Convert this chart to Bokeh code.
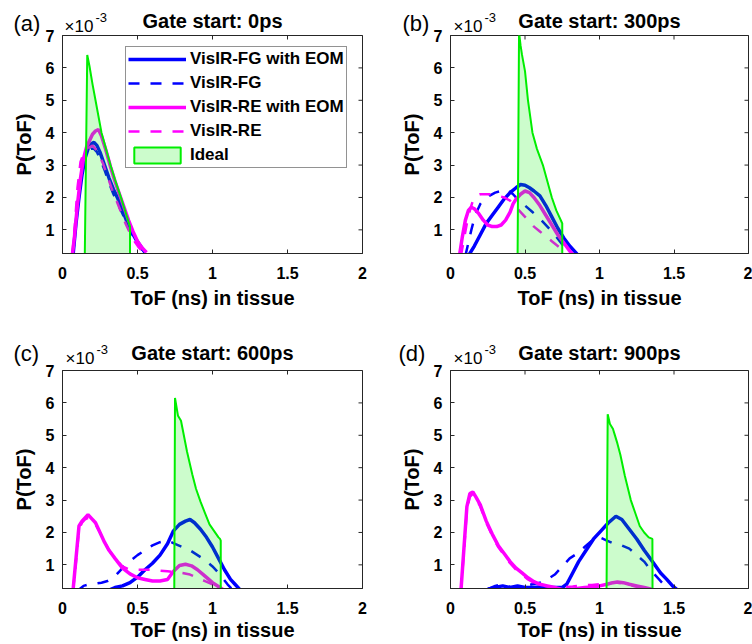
import math
from bokeh.plotting import figure
from bokeh.layouts import column, row
from bokeh.models import (Range1d, FixedTicker, Label, Legend, LegendItem,
                          NumeralTickFormatter)
from bokeh.embed import file_html
from bokeh.resources import INLINE

# ---------------- data (P(ToF) values in units of 1e-3) ----------------
X_TICKS = [0, 0.5, 1, 1.5, 2]
Y_TICKS = [1, 2, 3, 4, 5, 6, 7]
X_MIN, X_MAX = 0.0, 2.0
Y_MIN, Y_MAX = 0.27, 7.0

SERIES_LABELS = ["VisIR-FG with EOM", "VisIR-FG", "VisIR-RE with EOM", "VisIR-RE", "Ideal"]
PANEL_TAGS = ["(a)", "(b)", "(c)", "(d)"]
PANEL_TITLES = ["Gate start: 0ps", "Gate start: 300ps", "Gate start: 600ps", "Gate start: 900ps"]
X_LABEL = "ToF (ns) in tissue"
Y_LABEL = "P(ToF)"
EXP_BASE = "\u00d710"
EXP_POWER = "-3"

# ---- panel (a): gate start 0 ps
a_fg_eom_x = [0.07, 0.09, 0.11, 0.13, 0.15, 0.17, 0.19, 0.21, 0.23, 0.25, 0.28, 0.31, 0.34, 0.37, 0.40, 0.43, 0.46, 0.49, 0.52, 0.55]
a_fg_eom_y = [0.2, 1.2, 2.0, 2.7, 3.2, 3.5, 3.65, 3.7, 3.6, 3.4, 3.0, 2.6, 2.25, 1.95, 1.6, 1.25, 0.95, 0.7, 0.5, 0.3]
a_fg_x = [0.07, 0.09, 0.11, 0.13, 0.15, 0.17, 0.19, 0.21, 0.23, 0.25, 0.28, 0.31, 0.34, 0.37, 0.40, 0.43, 0.46, 0.49, 0.52, 0.55]
a_fg_y = [0.2, 1.3, 2.2, 2.9, 3.25, 3.45, 3.5, 3.5, 3.4, 3.2, 2.85, 2.45, 2.1, 1.8, 1.5, 1.2, 0.9, 0.65, 0.45, 0.3]
a_re_eom_x = [0.065, 0.08, 0.10, 0.12, 0.14, 0.16, 0.18, 0.20, 0.22, 0.24, 0.26, 0.29, 0.32, 0.35, 0.38, 0.41, 0.44, 0.47, 0.50, 0.53, 0.56]
a_re_eom_y = [0.2, 0.8, 1.8, 2.6, 3.2, 3.55, 3.75, 3.95, 4.05, 4.1, 3.9, 3.45, 2.95, 2.5, 2.1, 1.7, 1.3, 0.95, 0.65, 0.45, 0.3]
a_re_x = [0.065, 0.08, 0.10, 0.12, 0.14, 0.16, 0.18, 0.20, 0.22, 0.24, 0.27, 0.30, 0.33, 0.36, 0.39, 0.42, 0.45, 0.48, 0.51, 0.54]
a_re_y = [0.2, 1.0, 2.3, 3.1, 3.35, 3.45, 3.55, 3.6, 3.5, 3.35, 3.05, 2.65, 2.25, 1.9, 1.55, 1.2, 0.9, 0.65, 0.45, 0.3]
a_ideal_x = [0.148, 0.165, 0.18, 0.20, 0.22, 0.24, 0.26, 0.29, 0.32, 0.35, 0.39, 0.42, 0.45, 0.45]
a_ideal_y = [0.0, 6.4, 6.05, 5.5, 5.0, 4.5, 4.0, 3.5, 3.0, 2.55, 2.0, 1.55, 1.1, 0.0]

# ---- panel (b): gate start 300 ps
b_fg_eom_x = [0.12, 0.16, 0.20, 0.24, 0.28, 0.32, 0.36, 0.40, 0.44, 0.47, 0.50, 0.53, 0.56, 0.60, 0.64, 0.68, 0.72, 0.76, 0.80, 0.85]
b_fg_eom_y = [0.2, 0.5, 0.85, 1.2, 1.45, 1.7, 1.95, 2.15, 2.3, 2.4, 2.38, 2.3, 2.2, 2.05, 1.75, 1.4, 1.05, 0.75, 0.5, 0.25]
b_fg_x = [0.10, 0.12, 0.14, 0.16, 0.18, 0.20, 0.23, 0.26, 0.30, 0.34, 0.38, 0.42, 0.46, 0.50, 0.55, 0.60, 0.65, 0.70, 0.75, 0.80]
b_fg_y = [0.2, 0.6, 1.0, 1.35, 1.6, 1.8, 1.95, 2.05, 2.15, 2.2, 2.25, 2.1, 1.9, 1.75, 1.55, 1.35, 1.1, 0.85, 0.55, 0.3]
b_re_eom_x = [0.06, 0.08, 0.10, 0.12, 0.14, 0.16, 0.19, 0.22, 0.25, 0.28, 0.31, 0.34, 0.37, 0.40, 0.42, 0.44, 0.47, 0.50, 0.53, 0.56, 0.60, 0.64, 0.68, 0.72, 0.76, 0.80, 0.83]
b_re_eom_y = [0.2, 0.8, 1.3, 1.6, 1.7, 1.65, 1.5, 1.3, 1.15, 1.1, 1.1, 1.15, 1.3, 1.55, 1.8, 1.95, 2.1, 2.2, 2.15, 2.0, 1.75, 1.45, 1.15, 0.85, 0.6, 0.35, 0.2]
b_re_x = [0.07, 0.09, 0.11, 0.13, 0.15, 0.17, 0.20, 0.24, 0.28, 0.32, 0.36, 0.40, 0.44, 0.48, 0.52, 0.56, 0.60, 0.64, 0.68, 0.72, 0.76, 0.79]
b_re_y = [0.2, 0.7, 1.2, 1.6, 1.9, 2.05, 2.1, 2.1, 2.1, 2.05, 2.0, 1.9, 1.7, 1.5, 1.3, 1.1, 0.95, 0.8, 0.65, 0.5, 0.35, 0.25]
b_ideal_x = [0.45, 0.46, 0.47, 0.48, 0.50, 0.52, 0.55, 0.58, 0.62, 0.65, 0.68, 0.71, 0.745, 0.75, 0.75]
b_ideal_y = [0.0, 7.1, 6.7, 6.4, 5.9, 5.0, 4.0, 3.5, 3.0, 2.5, 2.0, 1.6, 1.25, 1.2, 0.0]

# ---- panel (c): gate start 600 ps
c_fg_eom_x = [0.30, 0.35, 0.40, 0.45, 0.50, 0.55, 0.60, 0.65, 0.70, 0.74, 0.78, 0.82, 0.85, 0.88, 0.92, 0.96, 1.00, 1.04, 1.08, 1.12, 1.15, 1.18]
c_fg_eom_y = [0.2, 0.3, 0.35, 0.45, 0.62, 0.85, 1.05, 1.3, 1.65, 2.05, 2.25, 2.35, 2.4, 2.3, 2.1, 1.85, 1.55, 1.2, 0.85, 0.55, 0.4, 0.25]
c_fg_x = [0.10, 0.14, 0.18, 0.22, 0.26, 0.30, 0.34, 0.38, 0.42, 0.46, 0.50, 0.55, 0.60, 0.65, 0.70, 0.75, 0.80, 0.85, 0.90, 0.95, 1.00, 1.05, 1.10, 1.13]
c_fg_y = [0.2, 0.35, 0.4, 0.42, 0.45, 0.5, 0.6, 0.8, 1.0, 1.15, 1.3, 1.45, 1.6, 1.7, 1.75, 1.65, 1.55, 1.45, 1.3, 1.15, 0.95, 0.7, 0.4, 0.25]
c_re_eom_x = [0.07, 0.09, 0.11, 0.13, 0.15, 0.17, 0.19, 0.22, 0.25, 0.28, 0.31, 0.35, 0.40, 0.45, 0.50, 0.55, 0.60, 0.65, 0.70, 0.74, 0.78, 0.82, 0.86, 0.90, 0.95, 1.00, 1.05, 1.08]
c_re_eom_y = [0.2, 1.2, 2.2, 2.35, 2.45, 2.55, 2.45, 2.3, 2.0, 1.7, 1.45, 1.2, 0.9, 0.72, 0.6, 0.55, 0.5, 0.5, 0.55, 0.8, 0.98, 1.02, 0.97, 0.85, 0.65, 0.45, 0.3, 0.2]
c_re_x = [0.07, 0.09, 0.11, 0.13, 0.15, 0.17, 0.19, 0.22, 0.25, 0.28, 0.31, 0.35, 0.40, 0.45, 0.50, 0.55, 0.60, 0.65, 0.70, 0.75, 0.80, 0.85, 0.90, 0.95, 1.00, 1.05, 1.10]
c_re_y = [0.2, 1.1, 2.1, 2.3, 2.4, 2.45, 2.4, 2.25, 2.0, 1.7, 1.45, 1.2, 0.95, 0.85, 0.85, 0.85, 0.85, 0.82, 0.8, 0.78, 0.75, 0.7, 0.6, 0.5, 0.4, 0.3, 0.2]
c_ideal_x = [0.745, 0.75, 0.77, 0.79, 0.83, 0.865, 0.89, 0.92, 0.95, 0.98, 1.01, 1.04, 1.05, 1.055, 1.055]
c_ideal_y = [0.0, 6.15, 5.6, 5.45, 4.5, 3.8, 3.35, 2.95, 2.6, 2.25, 2.05, 1.85, 1.8, 1.75, 0.0]

# ---- panel (d): gate start 900 ps
d_fg_eom_x = [0.25, 0.30, 0.35, 0.40, 0.45, 0.50, 0.55, 0.60, 0.65, 0.70, 0.75, 0.78, 0.82, 0.86, 0.91, 0.96, 1.01, 1.06, 1.11, 1.15, 1.20, 1.25, 1.30, 1.36, 1.41, 1.45, 1.49, 1.53]
d_fg_eom_y = [0.25, 0.3, 0.35, 0.3, 0.35, 0.3, 0.3, 0.32, 0.3, 0.3, 0.3, 0.4, 0.75, 1.1, 1.45, 1.8, 2.05, 2.3, 2.5, 2.4, 2.1, 1.8, 1.45, 1.07, 0.75, 0.56, 0.35, 0.2]
d_fg_x = [0.25, 0.30, 0.35, 0.40, 0.45, 0.50, 0.55, 0.60, 0.65, 0.70, 0.75, 0.80, 0.85, 0.90, 0.95, 1.00, 1.05, 1.10, 1.15, 1.20, 1.25, 1.30, 1.35, 1.40, 1.44, 1.47]
d_fg_y = [0.25, 0.35, 0.4, 0.32, 0.3, 0.35, 0.4, 0.45, 0.55, 0.7, 0.95, 1.2, 1.35, 1.55, 1.75, 1.85, 1.75, 1.65, 1.6, 1.5, 1.3, 1.1, 0.8, 0.55, 0.35, 0.2]
d_re_eom_x = [0.07, 0.09, 0.11, 0.13, 0.15, 0.17, 0.20, 0.24, 0.28, 0.32, 0.36, 0.40, 0.44, 0.48, 0.52, 0.56, 0.60, 0.65, 0.70, 0.74, 0.78, 0.82, 0.86, 0.90, 0.95, 1.00, 1.05, 1.09, 1.12, 1.16, 1.20, 1.25, 1.30, 1.35]
d_re_eom_y = [0.2, 1.5, 2.8, 3.2, 3.25, 3.1, 2.85, 2.35, 1.95, 1.6, 1.35, 1.1, 0.9, 0.75, 0.6, 0.48, 0.4, 0.35, 0.3, 0.25, 0.2, 0.25, 0.28, 0.3, 0.32, 0.35, 0.4, 0.45, 0.47, 0.45, 0.4, 0.35, 0.3, 0.25]
d_re_x = [0.07, 0.09, 0.11, 0.13, 0.15, 0.17, 0.20, 0.24, 0.28, 0.32, 0.36, 0.40, 0.44, 0.48, 0.52, 0.56, 0.60, 0.65, 0.70, 0.74, 0.78, 0.82, 0.86, 0.90, 0.95, 1.00, 1.05, 1.09, 1.12, 1.16, 1.20, 1.25, 1.30, 1.35]
d_re_y = [0.2, 1.4, 2.7, 3.1, 3.2, 3.05, 2.8, 2.3, 1.9, 1.55, 1.3, 1.05, 0.85, 0.7, 0.55, 0.45, 0.38, 0.33, 0.3, 0.3, 0.32, 0.33, 0.35, 0.37, 0.38, 0.4, 0.42, 0.45, 0.45, 0.42, 0.38, 0.32, 0.28, 0.22]
d_ideal_x = [1.047, 1.055, 1.07, 1.09, 1.10, 1.12, 1.14, 1.17, 1.21, 1.24, 1.27, 1.30, 1.33, 1.355, 1.356]
d_ideal_y = [0.0, 5.65, 5.35, 5.2, 5.05, 4.75, 4.4, 3.75, 3.0, 2.6, 2.2, 2.0, 1.85, 1.8, 0.0]

PANEL_DATA = [
    [(a_fg_eom_x, a_fg_eom_y), (a_fg_x, a_fg_y), (a_re_eom_x, a_re_eom_y), (a_re_x, a_re_y), (a_ideal_x, a_ideal_y)],
    [(b_fg_eom_x, b_fg_eom_y), (b_fg_x, b_fg_y), (b_re_eom_x, b_re_eom_y), (b_re_x, b_re_y), (b_ideal_x, b_ideal_y)],
    [(c_fg_eom_x, c_fg_eom_y), (c_fg_x, c_fg_y), (c_re_eom_x, c_re_eom_y), (c_re_x, c_re_y), (c_ideal_x, c_ideal_y)],
    [(d_fg_eom_x, d_fg_eom_y), (d_fg_x, d_fg_y), (d_re_eom_x, d_re_eom_y), (d_re_x, d_re_y), (d_ideal_x, d_ideal_y)],
]

# ---------------- styling / layout ----------------
FONT = "Liberation Sans"
BLUE = "#0000ff"
MAGENTA = "#ff00ff"
GREEN = "#00ee00"
AXIS_COLOR = "#262626"
PANEL_W, PANEL_H = 376, 322

HEADER_H = [42, 55]            # header strip height per row
FRAME_TOP = [35, 48]           # frame top inside a 322 px panel, per row
TOP_GAP = 8                    # main figure border above the frame
HEADER_SHIFT = -6              # empirical correction of the strip's vertical placement
HEADER_POS = [
    # tag(x, baseline), exp(x, baseline), power(x, baseline), title(center x, baseline)
    dict(tag=(13, 28.7), exp=(64, 31.7), pw=(95, 22.7), title=(212, 26)),
    dict(tag=(26, 28.7), exp=(77, 31.7), pw=(108, 22.7), title=(223, 26)),
    dict(tag=(13, 36.9), exp=(65, 41.7), pw=(96, 33.3), title=(212, 36)),
    dict(tag=(22, 36.9), exp=(77, 41.7), pw=(108, 33.3), title=(223, 36)),
]


def no_align(fig):
    try:
        fig.frame_align = False
    except Exception:
        pass


def make_header(i, height):
    h = figure(width=PANEL_W, height=height, title=None, toolbar_location=None,
               x_axis_location=None, y_axis_location=None, output_backend="svg",
               x_range=Range1d(0, PANEL_W), y_range=Range1d(height, 0),
               min_border=0)
    no_align(h)
    h.grid.visible = False
    h.outline_line_color = None
    h.background_fill_color = None
    h.border_fill_color = None
    pos = HEADER_POS[i]
    dy = HEADER_SHIFT
    common = dict(text_font=FONT, text_color="black", text_baseline="alphabetic")
    h.add_layout(Label(x=pos["tag"][0], y=pos["tag"][1] + dy, text=PANEL_TAGS[i],
                       text_font_size="22px", text_align="left", **common))
    h.add_layout(Label(x=pos["exp"][0], y=pos["exp"][1] + dy, text=EXP_BASE,
                       text_font_size="17px", text_align="left", **common))
    h.add_layout(Label(x=pos["pw"][0], y=pos["pw"][1] + dy, text=EXP_POWER,
                       text_font_size="13px", text_align="left", **common))
    h.add_layout(Label(x=pos["title"][0], y=pos["title"][1] + dy, text=PANEL_TITLES[i],
                       text_font_size="20px", text_font_style="bold",
                       text_align="center", **common))
    return h


def make_panel(i):
    col, rw = i % 2, i // 2
    left = 62 if col == 0 else 74
    right = 14 if col == 0 else 4
    bottom = 69 if rw == 0 else 56
    main_top = FRAME_TOP[rw] - TOP_GAP
    overlap = HEADER_H[rw] - main_top

    p = figure(width=PANEL_W, height=PANEL_H - main_top, title=None,
               x_range=Range1d(X_MIN, X_MAX), y_range=Range1d(Y_MIN, Y_MAX),
               output_backend="svg", toolbar_location=None,
               min_border_left=left, min_border_right=right,
               min_border_top=TOP_GAP, min_border_bottom=bottom)
    no_align(p)
    p.grid.visible = False
    p.outline_line_color = AXIS_COLOR
    p.outline_line_width = 1
    p.background_fill_color = "white"
    p.border_fill_color = None

    xa = p.xaxis[0]
    ya = p.yaxis[0]
    xa.ticker = FixedTicker(ticks=X_TICKS)
    ya.ticker = FixedTicker(ticks=Y_TICKS)
    xa.formatter = NumeralTickFormatter(format="0.[0]")
    ya.formatter = NumeralTickFormatter(format="0")
    for ax in (xa, ya):
        ax.axis_line_color = AXIS_COLOR
        ax.major_tick_line_color = AXIS_COLOR
        ax.major_tick_in = 4
        ax.major_tick_out = 0
        ax.minor_tick_line_color = None
        ax.major_label_text_font = FONT
        ax.major_label_text_font_size = "16px"
        ax.major_label_text_font_style = "bold"
        ax.major_label_text_color = "black"
        ax.axis_label_text_font = FONT
        ax.axis_label_text_font_size = "20px"
        ax.axis_label_text_font_style = "bold"
        ax.axis_label_text_color = "black"
    xa.major_label_standoff = 13
    ya.major_label_standoff = 8
    xa.axis_label = X_LABEL
    ya.axis_label = Y_LABEL
    xa.axis_label_standoff = 5 if rw == 0 else 2
    ya.axis_label_standoff = 8

    # mirrored tick marks on the top and right edges (half of each dash is clipped)
    p.scatter(X_TICKS, [Y_MAX] * len(X_TICKS), marker="dash", size=8, angle=math.pi / 2,
              line_color=AXIS_COLOR, line_width=1)
    p.scatter([X_MAX] * len(Y_TICKS), Y_TICKS, marker="dash", size=8,
              line_color=AXIS_COLOR, line_width=1)

    (fe_x, fe_y), (f_x, f_y), (re_x, re_y), (r_x, r_y), (id_x, id_y) = PANEL_DATA[i]
    r1 = p.line(fe_x, fe_y, line_color=BLUE, line_width=3.5)
    r2 = p.line(f_x, f_y, line_color=BLUE, line_width=2.5, line_dash="11 11")
    r3 = p.line(re_x, re_y, line_color=MAGENTA, line_width=3.5)
    r4 = p.line(r_x, r_y, line_color=MAGENTA, line_width=2.5, line_dash="11 11")
    r5 = p.patch(id_x, id_y, fill_color=GREEN, fill_alpha=0.2, line_color=GREEN, line_width=2)

    if i == 0:
        items = [LegendItem(label=lab, renderers=[r]) for lab, r in
                 zip(SERIES_LABELS, [r1, r2, r3, r4, r5])]
        leg = Legend(items=items, location=(63, 85), margin=0, padding=2, spacing=4,
                     glyph_width=58, glyph_height=20, label_height=20, label_standoff=4,
                     label_text_font=FONT, label_text_font_size="17px",
                     label_text_font_style="bold", label_text_color="black",
                     border_line_color=AXIS_COLOR, border_line_width=1,
                     background_fill_color="white", background_fill_alpha=1.0)
        p.add_layout(leg)

    try:
        p.margin = (-overlap, 0, 0, 0)
        header = make_header(i, HEADER_H[rw])
    except Exception:
        header = make_header(i, main_top)
    return column(header, p)


panels = [make_panel(i) for i in range(4)]
layout = column(row(panels[0], panels[1]), row(panels[2], panels[3]))

open("out.html", "w").write(file_html(layout, INLINE))
